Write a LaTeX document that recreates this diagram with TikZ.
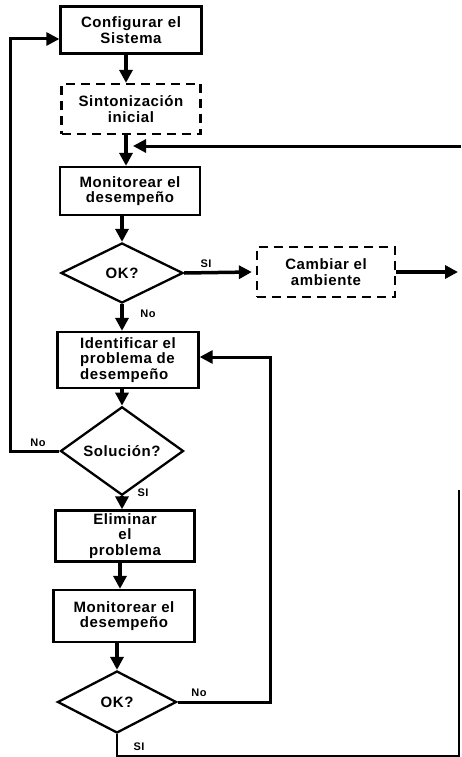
\documentclass[tikz,border=0pt]{standalone}
\usepackage{fontspec}
\setmainfont{Liberation Sans}[LetterSpace=4]
\usetikzlibrary{arrows.meta}
\usetikzlibrary{shapes.geometric}

\tikzset{
  box/.style={draw, line width=2.3pt, inner sep=2pt, align=center,
    font=\fontsize{15}{15.5}\selectfont\bfseries},
  dbox/.style={box, dash pattern=on 9pt off 6pt},
  decision/.style={draw, diamond, line width=2.3pt, inner sep=0pt,
    font=\fontsize{15}{15}\selectfont\bfseries},
  arr/.style={line width=3.5pt, -{Triangle[length=13pt,width=13pt]}},
  fb/.style={line width=3pt},
  lbl/.style={font=\fontsize{11}{11}\selectfont\bfseries},
}

\begin{document}
\begin{tikzpicture}[x=1pt, y=-1pt]
    \useasboundingbox (0,0) rectangle (461,757);
    % main column
    \node[box, minimum width=141pt, minimum height=47pt] (conf) at (131,30) {Configurar el\\Sistema};
    \node[dbox, minimum width=139pt, minimum height=50pt] (sint) at (131,109) {Sintonizaci\'on\\inicial};
    \node[box, minimum width=140pt, minimum height=48pt] (mon1) at (130,191) {Monitorear el\\desempe\~no};
    \node[decision, minimum width=122pt, minimum height=60pt] (ok1) at (122,273) {OK?};
    \node[dbox, minimum width=138pt, minimum height=50pt] (camb) at (326,272) {Cambiar el\\ambiente};
    \node[box, align=left, minimum width=141pt, minimum height=56pt] (ident) at (128,360) {Identificar el\\problema de\\desempe\~no};
    \node[decision, minimum width=123pt, minimum height=62pt] (sol) at (122,451) {Soluci\'on?};
    \node[box, minimum width=139pt, minimum height=51pt] (elim) at (125,536) {Eliminar\\el\\problema};
    \node[box, minimum width=141pt, minimum height=52pt] (mon2) at (124,616) {Monitorear el\\desempe\~no};
    \node[decision, minimum width=119pt, minimum height=62pt] (ok2) at (117,702) {OK?};

    \coordinate (in1) at (461,146);
    \coordinate (join1) at (133,146);
    \coordinate (out1) at (458,272);
    \coordinate (fb1) at (10,39);
    \coordinate (fb2) at (270,357);
    \coordinate (fb3) at (459,756);
    \coordinate (fb4) at (459,490);

    % arrows down
    \draw[arr] (conf.south -| 126,0) -- (sint.north -| 126,0);
    \draw[arr] (sint.south -| 126,0) -- (mon1.north -| 126,0);
    \draw[arr] (mon1.south -| ok1.north) -- (ok1.north);
    \draw[arr] (ok1.south) -- (ident.north -| ok1.south);
    \draw[arr] (ident.south -| sol.north) -- (sol.north);
    \draw[arr] (sol.south) -- (elim.north -| sol.south);
    \draw[arr] (elim.south -| 120,0) -- (mon2.north -| 120,0);
    \draw[arr] (mon2.south -| ok2.north) -- (ok2.north);

    % side branches
    \draw[arr, line width=3pt] (in1) -- (join1);
    \draw[arr] (ok1.east) -- ([xshift=-4pt]camb.west);
    \draw[arr] (camb.east) -- (out1);
    \draw[fb, -{Triangle[length=13pt,width=13pt]}] (sol.west) -- (sol.west -| fb1) -- (fb1) -- (fb1 -| conf.west);
    \draw[fb, -{Triangle[length=13pt,width=13pt]}] (ok2.east) -- (ok2.east -| fb2) -- (fb2) -- (fb2 -| ident.east);
    \draw[line width=2pt] (ok2.south) -- (ok2.south |- fb3) -- (fb3) -- (fb4);

    % labels
    \node[lbl] (si1) at (206,264) {SI};
    \node[lbl] (no1) at (148,314) {No};
    \node[lbl] (no2) at (38,443) {No};
    \node[lbl] (si2) at (143,493) {SI};
    \node[lbl] (no3) at (199,693) {No};
    \node[lbl] (si3) at (139,747) {SI};
\end{tikzpicture}
\end{document}
